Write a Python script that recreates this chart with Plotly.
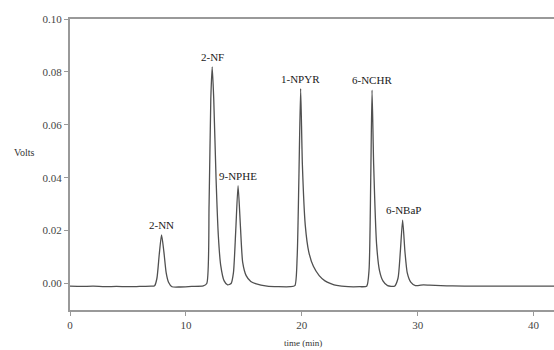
import plotly.graph_objects as go

# Chromatogram trace (time in min, signal in volts)
time_min = [0.0, 1.0, 2.0, 3.0, 4.0, 5.0, 6.0, 7.0, 7.3, 7.5, 7.7, 7.9, 8.1, 8.3, 8.5, 8.8,
            9.5, 10.5, 11.5, 11.8, 12.0, 12.15, 12.27, 12.4, 12.6, 12.8, 13.0, 13.3, 13.6,
            13.9, 14.1, 14.3, 14.5, 14.7, 14.9, 15.2, 15.6, 16.0, 17.0, 18.0, 19.0, 19.4,
            19.6, 19.75, 19.9, 20.05, 20.3, 20.6, 21.0, 21.5, 22.0, 22.5, 23.0, 24.0, 25.0,
            25.6, 25.8, 25.95, 26.06, 26.2, 26.45, 26.7, 27.0, 27.4, 28.0, 28.3, 28.5, 28.7,
            28.9, 29.1, 29.4, 29.8, 30.5, 31.0, 32.0, 33.0, 35.0, 38.0, 42.0]
volts = [-0.0010, -0.0011, -0.0010, -0.0012, -0.0011, -0.0012, -0.0011, -0.0010, -0.0008,
         0.002, 0.011, 0.0184, 0.012, 0.004, 0.0005, -0.0012,
         -0.0013, -0.0011, -0.0009, 0.0, 0.03, 0.07, 0.0819, 0.07, 0.04, 0.018, 0.007, 0.001,
         -0.0005, 0.0, 0.004, 0.02, 0.037, 0.022, 0.008, 0.003, 0.0008, 0.0, -0.001, -0.0012,
         -0.0012, -0.0008, 0.01, 0.04, 0.0737, 0.045, 0.022, 0.012, 0.0065, 0.003, 0.001, 0.0,
         -0.0007, -0.0012, -0.0012, -0.0010, 0.005, 0.04, 0.0731, 0.045, 0.015, 0.005, 0.001,
         -0.0008, -0.0010, 0.002, 0.012, 0.024, 0.012, 0.004, 0.0005, -0.0008, -0.0005,
         -0.0006, -0.0008, -0.0009, -0.0010, -0.0010, -0.0010]

# Peak labels
peak_names = ["2-NN", "2-NF", "9-NPHE", "1-NPYR", "6-NCHR", "6-NBaP"]
peak_times = [7.9, 12.27, 14.5, 19.9, 26.06, 28.8]
peak_heights = [0.0184, 0.0819, 0.037, 0.0737, 0.0731, 0.024]

x_ticks = [0, 10, 20, 30, 40]
y_ticks = [0.00, 0.02, 0.04, 0.06, 0.08, 0.10]

serif = "Liberation Serif, Times New Roman, serif"

fig = go.Figure()
fig.add_trace(go.Scatter(x=time_min, y=volts, mode="lines",
                         line=dict(color="#505050", width=1.3, shape="spline", smoothing=0.6),
                         hoverinfo="skip", showlegend=False))

for name, t, h in zip(peak_names, peak_times, peak_heights):
    fig.add_annotation(x=t, y=h, text=name, showarrow=False, xanchor="center",
                       yanchor="bottom", yshift=2,
                       font=dict(family=serif, size=11, color="#1a1a1a"))

fig.add_annotation(x=-0.095, y=0.54, xref="paper", yref="paper", text="Volts",
                   showarrow=False, xanchor="center", yanchor="middle",
                   font=dict(family=serif, size=10, color="#333333"))
fig.add_annotation(x=0.481, y=-0.113, xref="paper", yref="paper", text="time (min)",
                   showarrow=False, xanchor="center", yanchor="middle",
                   font=dict(family=serif, size=9, color="#333333"))

fig.update_layout(
    width=554, height=350,
    margin=dict(l=70, r=0, t=19, b=40),
    paper_bgcolor="white", plot_bgcolor="white",
    xaxis=dict(range=[0, 41.76], tickvals=x_ticks, ticks="outside", ticklen=4,
               tickcolor="#999999", showline=True, linecolor="#999999", linewidth=2,
               mirror=True, showgrid=False, zeroline=False,
               tickfont=dict(family=serif, size=11, color="#444444")),
    yaxis=dict(range=[-0.01, 0.10], tickvals=y_ticks, tickformat=".2f", ticks="outside",
               ticklen=4, tickcolor="#999999", showline=True, linecolor="#999999",
               linewidth=2, showgrid=False, zeroline=False,
               tickfont=dict(family=serif, size=11, color="#444444")),
)

fig.write_html("out.html", config={"displayModeBar": False},
               post_script="document.body.style.margin='0';document.body.style.overflow='hidden';")
